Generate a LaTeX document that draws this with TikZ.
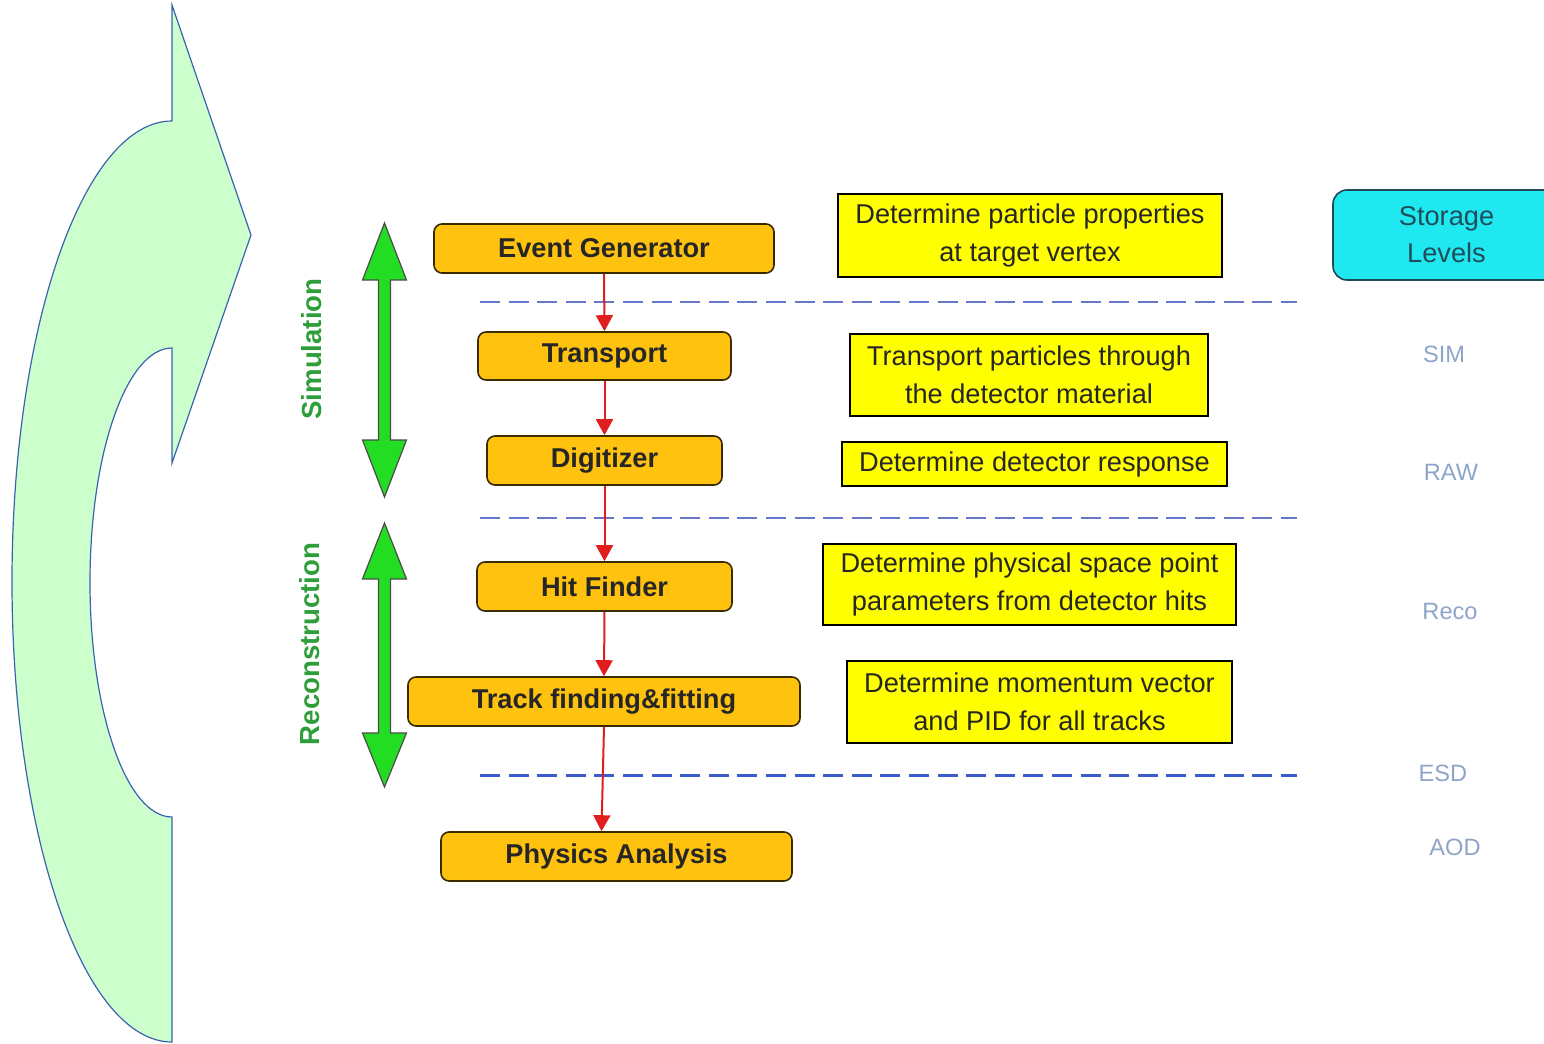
\documentclass[tikz,border=0pt]{standalone}
\usepackage{fontspec}
\setmainfont{Liberation Sans}
\usetikzlibrary{arrows.meta}
\definecolor{procfill}{HTML}{FFC20E}
\definecolor{procedge}{HTML}{3A2A00}
\definecolor{descfill}{HTML}{FFFF00}
\definecolor{storefill}{HTML}{1FE8F0}
\definecolor{storeedge}{HTML}{1D4A55}
\definecolor{storetext}{HTML}{1F4E5A}
\definecolor{flowred}{HTML}{E01E1E}
\definecolor{seplight}{HTML}{6677CC}
\definecolor{sepdark}{HTML}{3A5BCC}
\definecolor{levelblue}{HTML}{8EA4C8}
\definecolor{phasegreen}{HTML}{2E9E3A}
\definecolor{arrowgreen}{HTML}{22DD22}
\definecolor{curvefill}{HTML}{CCFFCC}
\definecolor{curveedge}{HTML}{3A62B0}
\begin{document}
\begin{tikzpicture}[x=0.5pt,y=-0.5pt,
  procbox/.style={draw=procedge, fill=procfill, rounded corners=4pt, line width=0.8pt,
    font=\fontsize{13.6}{16}\selectfont\bfseries, text=black!85, inner sep=0pt},
  descbox/.style={draw=black, fill=descfill, line width=0.8pt,
    font=\fontsize{13.6}{19}\selectfont, align=center, inner sep=0pt, text=black!85},
  storebox/.style={draw=storeedge, fill=storefill, rounded corners=7pt, line width=0.8pt,
    font=\fontsize{13.6}{18.5}\selectfont, align=center, inner sep=0pt, text=storetext},
  flow/.style={draw=flowred, line width=1pt, -{Triangle[width=8.5pt,length=8pt]}},
  sepline/.style={dash pattern=on 10pt off 4.3pt, line width=1pt, draw=seplight},
  level/.style={text=levelblue, font=\fontsize{11.8}{14}\selectfont, inner sep=0pt},
  phase/.style={text=phasegreen, font=\fontsize{13.8}{16}\selectfont\bfseries, rotate=90, inner sep=0pt},
  bigarrow/.style={fill=arrowgreen, draw=black!70, line width=0.6pt, line join=miter},
  curvearrow/.style={fill=curvefill, draw=curveedge, line width=0.6pt, line join=miter}
]
\useasboundingbox (0,0) rectangle (1544,1044);

% curved arrow on the left
\draw[curvearrow] (172,5) -- (251,235) -- (172,463) -- (172,348)
  .. controls (126.7,348) and (90,453) .. (90,582.5)
  .. controls (90,712) and (126.7,817) .. (172,817)
  -- (172,1042)
  .. controls (83.6,1042) and (12,835.8) .. (12,581.5)
  .. controls (12,327) and (83.6,121) .. (172,121)
  -- cycle;

% green double arrows
\draw[bigarrow] (384.5,223) -- (406.5,280) -- (390.5,280) -- (390.5,440) -- (406.5,440)
  -- (384.5,497) -- (362.5,440) -- (378.5,440) -- (378.5,280) -- (362.5,280) -- cycle;
\draw[bigarrow] (384.5,523) -- (406.5,579) -- (390.5,579) -- (390.5,733) -- (406.5,733)
  -- (384.5,787) -- (362.5,733) -- (378.5,733) -- (378.5,579) -- (362.5,579) -- cycle;

\node[phase] (sim) at (312,349) {Simulation};
\node[phase] (reco) at (310,644) {Reconstruction};

% separators
\coordinate (s1a) at (480,302);   \coordinate (s1b) at (1297,302);
\coordinate (s2a) at (480,517.5); \coordinate (s2b) at (1297,517.5);
\coordinate (s3a) at (480,775.5); \coordinate (s3b) at (1297,775.5);
\draw[sepline] (s1a) -- (s1b);
\draw[sepline] (s2a) -- (s2b);
\draw[sepline, draw=sepdark, line width=1.4pt] (s3a) -- (s3b);

% process boxes
\node[procbox, minimum width=170pt, minimum height=24.5pt] (eg) at (604,248.5) {Event Generator};
\node[procbox, minimum width=126.5pt, minimum height=24pt] (tr) at (604.5,356) {Transport};
\node[procbox, minimum width=117.5pt, minimum height=24.5pt] (dg) at (604.5,460.5) {Digitizer};
\node[procbox, minimum width=127.5pt, minimum height=24.5pt] (hf) at (604.5,586.5) {Hit Finder};
\node[procbox, minimum width=196pt, minimum height=24.5pt] (tf) at (604,701.5) {Track finding\&fitting};
\node[procbox, minimum width=175.5pt, minimum height=24.5pt] (pa) at (616.5,856.5) {Physics Analysis};

% flow arrows
\draw[flow] (eg.south) -- (tr.north);
\draw[flow] (tr.south) -- (dg.north);
\draw[flow] (dg.south) -- (hf.north);
\draw[flow] (hf.south) -- (tf.north);
\draw[flow] (tf.south) -- ([xshift=-7.5pt]pa.north);

% description boxes
\node[descbox, minimum width=192pt, minimum height=41.5pt] (d1) at (1030,235.5)
  {Determine particle properties\\at target vertex};
\node[descbox, minimum width=179pt, minimum height=41pt] (d2) at (1029,375)
  {Transport particles through\\the detector material};
\node[descbox, minimum width=192.5pt, minimum height=22pt] (d3) at (1034.5,464)
  {Determine detector response};
\node[descbox, minimum width=206.5pt, minimum height=40.5pt] (d4) at (1029.5,584.5)
  {Determine physical space point\\parameters from detector hits};
\node[descbox, minimum width=192.5pt, minimum height=41pt] (d5) at (1039.5,702)
  {Determine momentum vector\\and PID for all tracks};

% storage levels
\node[storebox, minimum width=113.5pt, minimum height=45pt] (st) at (1446.5,235)
  {Storage\\Levels};
\node[level] (lsim) at (1444,354) {SIM};
\node[level] (lraw) at (1451,472) {RAW};
\node[level] (lreco) at (1450,611) {Reco};
\node[level] (lesd) at (1443,773) {ESD};
\node[level] (laod) at (1455,847) {AOD};
\end{tikzpicture}
\end{document}
